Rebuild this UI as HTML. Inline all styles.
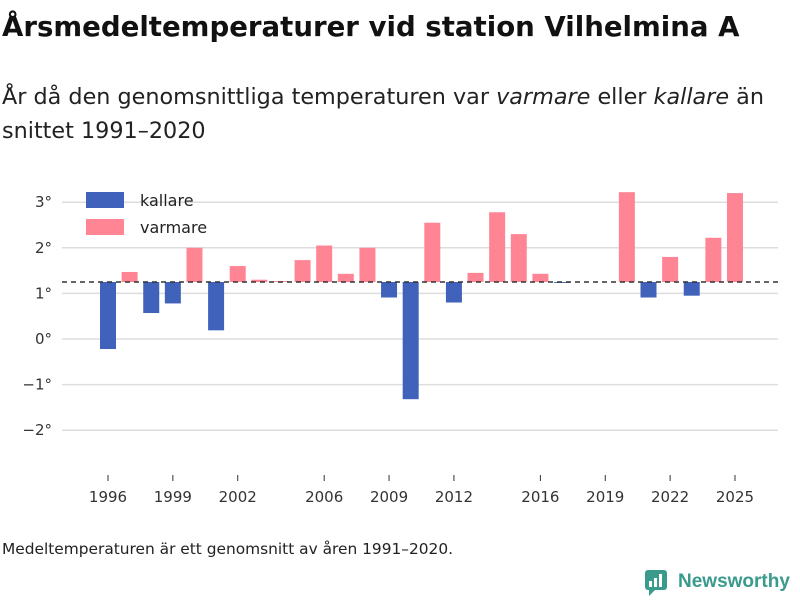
<!DOCTYPE html>
<html><head><meta charset="utf-8"><style>
body{margin:0;width:800px;height:600px;background:#fff;font-family:"DejaVu Sans","Liberation Sans",sans-serif;position:relative;overflow:hidden;color:#111}
#title{position:absolute;left:2px;top:10px;font-size:27.6px;font-weight:bold;margin:0;white-space:nowrap}
#sub{position:absolute;left:2px;top:80px;font-size:22.3px;line-height:34px;color:#222;width:798px;white-space:nowrap}
#note{position:absolute;left:2px;top:540px;font-size:15.4px;color:#222}
#logo{position:absolute;left:645px;top:568px;display:flex;align-items:center;color:#3a9a8c;font-size:19px;font-weight:bold;font-family:"Liberation Sans",sans-serif}
</style></head><body>
<h1 id="title">Årsmedeltemperaturer vid station Vilhelmina A</h1>
<div id="sub">År då den genomsnittliga temperaturen var <i>varmare</i> eller <i>kallare</i> än<br>snittet 1991–2020</div>
<svg id="chart" width="800" height="600" style="position:absolute;left:0;top:0"></svg>
<div id="note">Medeltemperaturen är ett genomsnitt av åren 1991–2020.</div>
<div id="logo"><svg width="24" height="28" viewBox="0 0 24 28"><rect x="0" y="2" width="22" height="20" rx="3" fill="#3a9a8c"/><path d="M4 22 L4 28 L10 22Z" fill="#3a9a8c"/><rect x="4" y="13" width="3" height="6" fill="#fff"/><rect x="9" y="10" width="3" height="9" fill="#fff"/><rect x="14" y="6" width="3" height="13" fill="#fff"/></svg><span style="margin-left:9px">Newsworthy</span></div>
<script>
const years=[1996,1997,1998,1999,2000,2001,2002,2003,2004,2005,2006,2007,2008,2009,2010,2011,2012,2013,2014,2015,2016,2017,2018,2019,2020,2021,2022,2023,2024,2025];
const temps=[-0.22,1.47,0.57,0.78,2.0,0.19,1.6,1.3,1.27,1.73,2.05,1.43,2.0,0.91,-1.32,2.55,0.8,1.45,2.78,2.3,1.43,1.23,null,null,3.22,0.91,1.8,0.95,2.22,3.2];
const baseline=1.25;
const yTicks=[3,2,1,0,-1,-2];
const xTicks=[1996,1999,2002,2006,2009,2012,2016,2019,2022,2025];
const svg=document.getElementById('chart');
const NS='http://www.w3.org/2000/svg';
const y=v=>339-v*45.6;
const x=yr=>108+(yr-1996)*21.62;
function mk(t,a){const e=document.createElementNS(NS,t);for(const k in a)e.setAttribute(k,a[k]);svg.appendChild(e);return e;}
yTicks.forEach(v=>{
 const g=mk('line',{x1:62,x2:778,y1:y(v),y2:y(v),stroke:'#ddd','stroke-width':1.5});
 
 
 const t=mk('text',{x:52,y:y(v)+5,'text-anchor':'end','font-size':15,fill:'#333'});
 t.textContent=(v<0?'−'+(-v):v)+'°';
 
 
});
xTicks.forEach(yr=>{
 const l=mk('line',{x1:x(yr),x2:x(yr),y1:475,y2:481,stroke:'#333'});
 
 
 const t=mk('text',{x:x(yr),y:502,'text-anchor':'middle','font-size':15,fill:'#333'});
 t.textContent=yr;
 
 
});
years.forEach((yr,i)=>{
 const v=temps[i]; if(v===null)return;
 const top=Math.min(y(v),y(baseline)),h=Math.abs(y(v)-y(baseline));
 const r=mk('rect',{x:x(yr)-8,y:top,width:16,height:Math.max(h,0.5),fill:v<baseline?'#4062bb':'#ff8595'});
 
 
});
const d=mk('line',{x1:62,x2:778,y1:y(baseline),y2:y(baseline),stroke:'#333','stroke-width':1.5,'stroke-dasharray':'5,4'});


[['kallare','#4062bb',200],['varmare','#ff8595',227]].forEach(([n,c,yy])=>{
 const r=mk('rect',{x:86,y:yy-8,width:38,height:16,fill:c});
 
 
 const t=mk('text',{x:140,y:yy+6,'font-size':16,fill:'#222'});
 t.textContent=n;
 
 
});
</script>
</body></html>
